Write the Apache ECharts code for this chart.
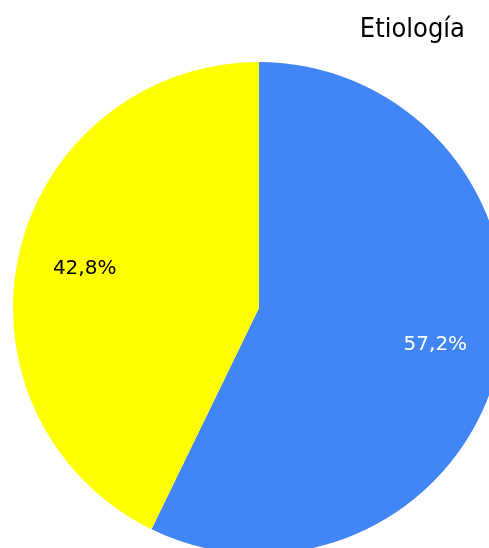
<!DOCTYPE html>
<html>
<head>
<meta charset="utf-8">
<script src="https://cdn.jsdelivr.net/npm/echarts@6/dist/echarts.min.js"></script>
<style>
    html, body { margin: 0; padding: 0; background: #fff; }
    #chart { width: 489px; height: 548px; }
</style>
</head>
<body>
<div id="chart"></div>
<script>
const categories = ['Causa A', 'Causa B'];
const values = [57.2, 42.8];
const sliceColors = ['#4285f4', '#ffff00'];
const labelColors = ['#ffffff', '#000000'];

const chart = echarts.init(document.getElementById('chart'), null, { renderer: 'canvas' });

const pieData = categories.map((name, i) => ({
    name: name,
    value: values[i],
    itemStyle: { color: sliceColors[i] }
}));

const fmt = (p) => p.value.toFixed(1).replace('.', ',') + '%';

// small nudges so the labels sit where the original ones do
const labelNudge = [[-2, -4], [4, 2]];

const option = {
    backgroundColor: '#ffffff',
    animation: false,
    title: {
        text: 'Etiología',
        right: 19,
        top: 11,
        textStyle: {
            fontFamily: '"DejaVu Sans Condensed", "DejaVu Sans", sans-serif',
            fontSize: 27,
            fontWeight: 'normal',
            color: '#000'
        }
    },
    series: [
        {
            type: 'pie',
            center: [259, 308],
            radius: [0, 246],
            startAngle: 90,
            clockwise: true,
            itemStyle: { borderWidth: 0 },
            label: { show: false },
            labelLine: { show: false },
            data: pieData
        },
        {
            // transparent ring only used to place the labels at ~0.73 r
            type: 'pie',
            center: [259, 308],
            radius: [114, 246],
            startAngle: 90,
            clockwise: true,
            silent: true,
            itemStyle: { color: 'transparent', borderWidth: 0 },
            label: {
                show: true,
                position: 'inside',
                formatter: fmt,
                fontFamily: '"DejaVu Sans", Verdana, sans-serif',
                fontSize: 20
            },
            labelLine: { show: false },
            data: categories.map((name, i) => ({
                name: name,
                value: values[i],
                itemStyle: { color: 'transparent' },
                label: { color: labelColors[i], offset: labelNudge[i] }
            }))
        }
    ]
};

chart.setOption(option);
</script>
</body>
</html>
